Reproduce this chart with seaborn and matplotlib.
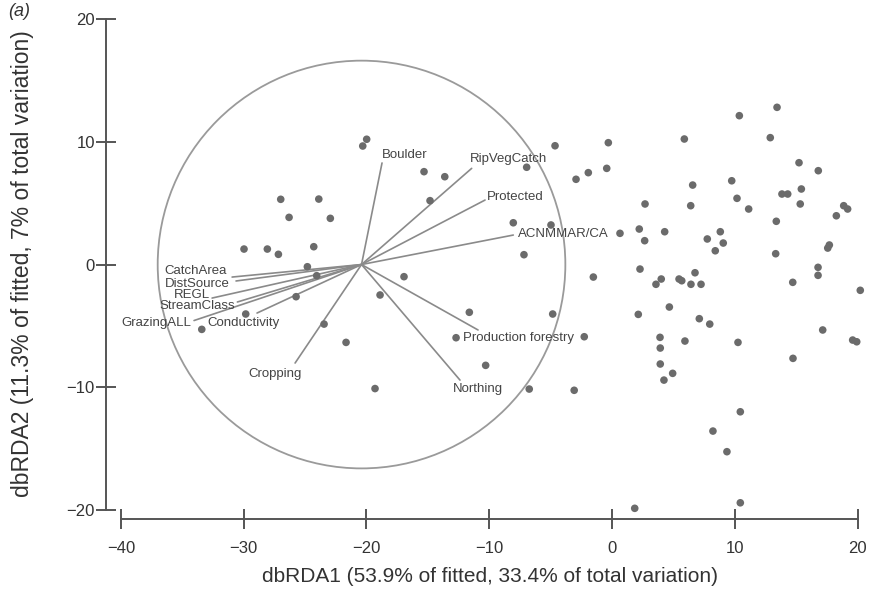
import numpy as np
import pandas as pd
import matplotlib
matplotlib.use("Agg")
import matplotlib.pyplot as plt
from matplotlib.patches import Circle
import seaborn as sns

# ---- site scores (dbRDA1, dbRDA2) ----
rda1 = [-19.98, -20.30, -15.31, -13.62, -14.82, -26.98, -23.88, -26.30, -22.94, -29.97,
        -28.07, -27.17, -24.29, -24.81, -24.05, -16.94, -18.89, -25.73, -29.83, -33.41,
        -23.45, -21.66, -19.30, -4.64, -0.30, -6.95, -2.93, -1.93, -0.43, 2.69,
        -8.04, -4.97, 0.65, 2.22, 2.66, -7.17, 2.28, -1.52, -11.62, -4.83,
        2.14, -12.70, -2.26, -10.29, -6.74, -3.08, 5.89, 10.37, 13.44, 12.89,
        15.23, 16.80, 9.75, 6.57, 6.41, 10.18, 11.13, 13.84, 14.31, 15.42,
        15.33, 13.38, 18.87, 19.19, 18.27, 4.29, 7.76, 8.82, 9.06, 8.41,
        13.33, 17.70, 17.57, 3.58, 4.01, 5.46, 5.68, 6.76, 6.43, 7.25,
        14.72, 16.78, 16.78, 20.22, 4.67, 7.11, 7.96, 17.16, 3.91, 3.93,
        5.94, 10.26, 19.60, 19.93, 3.93, 4.94, 4.23, 14.74, 10.45, 8.22,
        9.36, 1.85, 10.45]
rda2 = [10.20, 9.65, 7.56, 7.15, 5.20, 5.31, 5.33, 3.84, 3.76, 1.26,
        1.26, 0.83, 1.45, -0.18, -0.91, -0.99, -2.48, -2.62, -4.03, -5.28,
        -4.85, -6.34, -10.10, 9.67, 9.92, 7.92, 6.94, 7.48, 7.83, 4.93,
        3.40, 3.22, 2.54, 2.89, 1.94, 0.80, -0.37, -1.02, -3.89, -4.03,
        -4.06, -5.96, -5.88, -8.21, -10.14, -10.24, 10.22, 12.12, 12.80, 10.33,
        8.29, 7.64, 6.82, 6.47, 4.79, 5.39, 4.52, 5.74, 5.74, 6.15,
        4.93, 3.52, 4.79, 4.52, 3.97, 2.67, 2.08, 2.67, 1.75, 1.12,
        0.88, 1.59, 1.34, -1.61, -1.18, -1.18, -1.32, -0.67, -1.61, -1.61,
        -1.45, -0.23, -0.88, -2.10, -3.46, -4.41, -4.85, -5.33, -5.93, -6.80,
        -6.23, -6.34, -6.15, -6.29, -8.10, -8.86, -9.41, -7.64, -11.99, -13.56,
        -15.24, -19.85, -19.40]

# ---- predictor vectors (end points relative to vector origin) ----
vec_names = ["Boulder", "RipVegCatch", "Protected", "ACNMMAR/CA", "Production forestry",
             "Northing", "Cropping", "Conductivity", "GrazingALL", "StreamClass",
             "REGL", "DistSource", "CatchArea"]
vec_dx = [1.67, 8.97, 10.06, 12.36, 9.49, 8.02, -5.41, -8.51, -13.64, -10.11, -12.17, -10.22, -10.54]
vec_dy = [8.27, 7.83, 5.25, 2.40, -5.33, -9.41, -8.02, -3.95, -4.56, -3.05, -2.73, -1.34, -1.02]
origin = (-20.4, 0.0)
circle_radius = 16.6

# label placement (offset in pixels from vector end, alignment)
label_style = {
    "Boulder": (0, 8, "left"),
    "RipVegCatch": (-2, 9, "left"),
    "Protected": (2, 3, "left"),
    "ACNMMAR/CA": (5, 1, "left"),
    "Production forestry": (-15, -8, "left"),
    "Northing": (-7, -9, "left"),
    "Cropping": (-47, -11, "left"),
    "Conductivity": (-50, -10, "left"),
    "GrazingALL": (-3, -2, "right"),
    "StreamClass": (-2, -4, "right"),
    "REGL": (-2, 3, "right"),
    "DistSource": (-6, -3, "right"),
    "CatchArea": (-5, 6, "right"),
}

xticks = [-40, -30, -20, -10, 0, 10, 20]
yticks = [-20, -10, 0, 10, 20]
xlabel = "dbRDA1 (53.9% of fitted, 33.4% of total variation)"
ylabel = "dbRDA2 (11.3% of fitted, 7% of total variation)"

sns.set_theme(style="white")
plt.rcParams["font.family"] = ["Liberation Sans", "DejaVu Sans"]

W, H = 881, 593
fig = plt.figure(figsize=(W / 100, H / 100), dpi=100)
ax = fig.add_axes([106 / W, (H - 519) / H, 770 / W, 513 / H])
ax.set_xlim(-41.21, 21.5)
ax.set_ylim(-20.72, 21.05)

grey_line = "#8a8a8a"
ax.add_patch(Circle(origin, circle_radius, fill=False, edgecolor="#9a9a9a", lw=1.3, zorder=1))

for name, dx, dy in zip(vec_names, vec_dx, vec_dy):
    ex, ey = origin[0] + dx, origin[1] + dy
    ax.plot([origin[0], ex], [origin[1], ey], color=grey_line, lw=1.2, zorder=2)
    ox, oy, ha = label_style[name]
    ax.annotate(name, (ex, ey), xytext=(ox, oy), textcoords="offset pixels",
                ha=ha, va="center", fontsize=9.5, color="#444444", zorder=4)

df = pd.DataFrame({"dbRDA1": rda1, "dbRDA2": rda2})
sns.scatterplot(data=df, x="dbRDA1", y="dbRDA2", ax=ax, color="#6b6b6b",
                s=30, edgecolor="none", zorder=3, legend=False)

for side in ["top", "right"]:
    ax.spines[side].set_visible(False)
for side in ["left", "bottom"]:
    ax.spines[side].set_color("#555555")
    ax.spines[side].set_linewidth(1.4)
ax.spines["left"].set_bounds(-20, 20)
ax.spines["bottom"].set_bounds(-40, 20)

ax.set_xticks(xticks)
ax.set_yticks(yticks)
ax.set_xticklabels([str(t).replace("-", "\u2212") for t in xticks])
ax.set_yticklabels([str(t).replace("-", "\u2212") for t in yticks])
ax.tick_params(axis="both", which="major", bottom=True, left=True, direction="inout",
               length=14, width=1.4, color="#555555", labelsize=12, labelcolor="#333333")
ax.tick_params(axis="x", pad=9)
ax.tick_params(axis="y", pad=1)

ax.set_xlabel(xlabel, fontsize=15, color="#333333")
ax.set_ylabel(ylabel, fontsize=16.5, color="#333333")
ax.xaxis.set_label_coords((489.5 - 106) / 770, -(567 - 519) / 513)
ax.yaxis.set_label_coords(-(106 - 34) / 770, (519 - 264) / 513)

fig.text(8 / W, 1 - 12 / H, "(a)", fontsize=13, style="italic", color="#333333",
         ha="left", va="center")

fig.savefig("out.png", dpi=100)
